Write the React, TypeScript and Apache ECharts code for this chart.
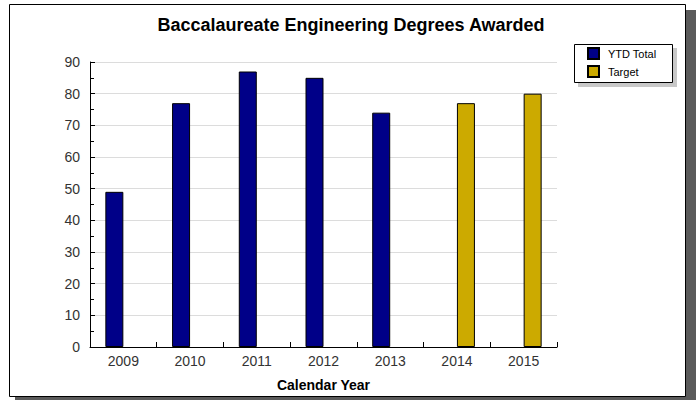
import React, { useEffect, useRef } from "react";
import * as echarts from "echarts";

const years = ["2009", "2010", "2011", "2012", "2013", "2014", "2015"];
const ytdTotal = [49, 77, 87, 85, 74, null, null];
const target = [null, null, null, null, null, 77, 80];
const titleText = "Baccalaureate Engineering Degrees Awarded";
const xName = "Calendar Year";

export default function App() {
  const ref = useRef<HTMLDivElement>(null);
  useEffect(() => {
    if (!ref.current) return;
    const chart = echarts.init(ref.current, null, { renderer: "svg" });
    const font = "'Liberation Sans', Arial, sans-serif";
    chart.setOption({
      animation: false,
      textStyle: { fontFamily: font },
      title: {
        text: titleText,
        left: 346,
        textAlign: "center",
        top: 11,
        textStyle: { fontSize: 18, fontWeight: "bold", color: "#000", fontFamily: font },
      },
      graphic: [
        { type: "rect", z: -10, shape: { x: 15, y: 10, width: 681, height: 390 }, style: { fill: "#5a5a5a" } },
        { type: "rect", z: -9, shape: { x: 9.5, y: 4.5, width: 676, height: 392 }, style: { fill: "#fff", stroke: "#000", lineWidth: 1 } },
        { type: "rect", z: -8, shape: { x: 578, y: 48, width: 99, height: 39 }, style: { fill: "#c8c8c8" } },
        { type: "rect", z: -7, shape: { x: 574.5, y: 44.5, width: 98, height: 38 }, style: { fill: "#fff", stroke: "#000", lineWidth: 1 } },
      ],
      legend: {
        orient: "vertical",
        left: 587,
        top: 47,
        itemWidth: 11,
        itemHeight: 11,
        itemGap: 5,
        icon: "rect",
        textStyle: { fontSize: 11, color: "#000", fontFamily: font, padding: [0, 0, 0, 4] },
        data: ["YTD Total", "Target"],
        padding: 0,
      },
      grid: { left: 90, right: 139, top: 62, bottom: 53 },
      xAxis: {
        type: "category",
        data: years,
        boundaryGap: true,
        name: xName,
        nameLocation: "middle",
        nameGap: 31,
        nameTextStyle: { fontSize: 14, fontWeight: "bold", color: "#000", fontFamily: font },
        axisLine: { lineStyle: { color: "#000", width: 1 } },
        axisTick: { show: true, inside: true, length: 5, lineStyle: { color: "#000", width: 1 } },
        axisLabel: { fontSize: 14, color: "#333", margin: 7, fontFamily: font },
        splitLine: { show: false },
      },
      yAxis: {
        type: "value",
        min: 0,
        max: 90,
        interval: 10,
        axisLine: { show: true, lineStyle: { color: "#000", width: 1 } },
        axisTick: { show: true, inside: true, length: 5, lineStyle: { color: "#000" } },
        minorTick: { show: true, splitNumber: 2, length: 4, lineStyle: { color: "#000" } },
        axisLabel: { fontSize: 14, color: "#333", margin: 10, fontFamily: font },
        splitLine: { show: true, lineStyle: { color: "#dcdcdc", width: 1 } },
      },
      series: [
        {
          name: "YTD Total",
          type: "bar",
          data: ytdTotal,
          barWidth: 18,
          barGap: "0%",
          itemStyle: { color: "#000088", borderColor: "#000", borderWidth: 1 },
        },
        {
          name: "Target",
          type: "bar",
          data: target,
          barWidth: 18,
          barGap: "0%",
          itemStyle: { color: "#ccaa00", borderColor: "#000", borderWidth: 1 },
        },
      ],
    });
    return () => chart.dispose();
  }, []);
  return (
    <div
      ref={ref}
      style={{ position: "fixed", left: 0, top: 0, width: 696, height: 400, background: "#fff" }}
    />
  );
}
